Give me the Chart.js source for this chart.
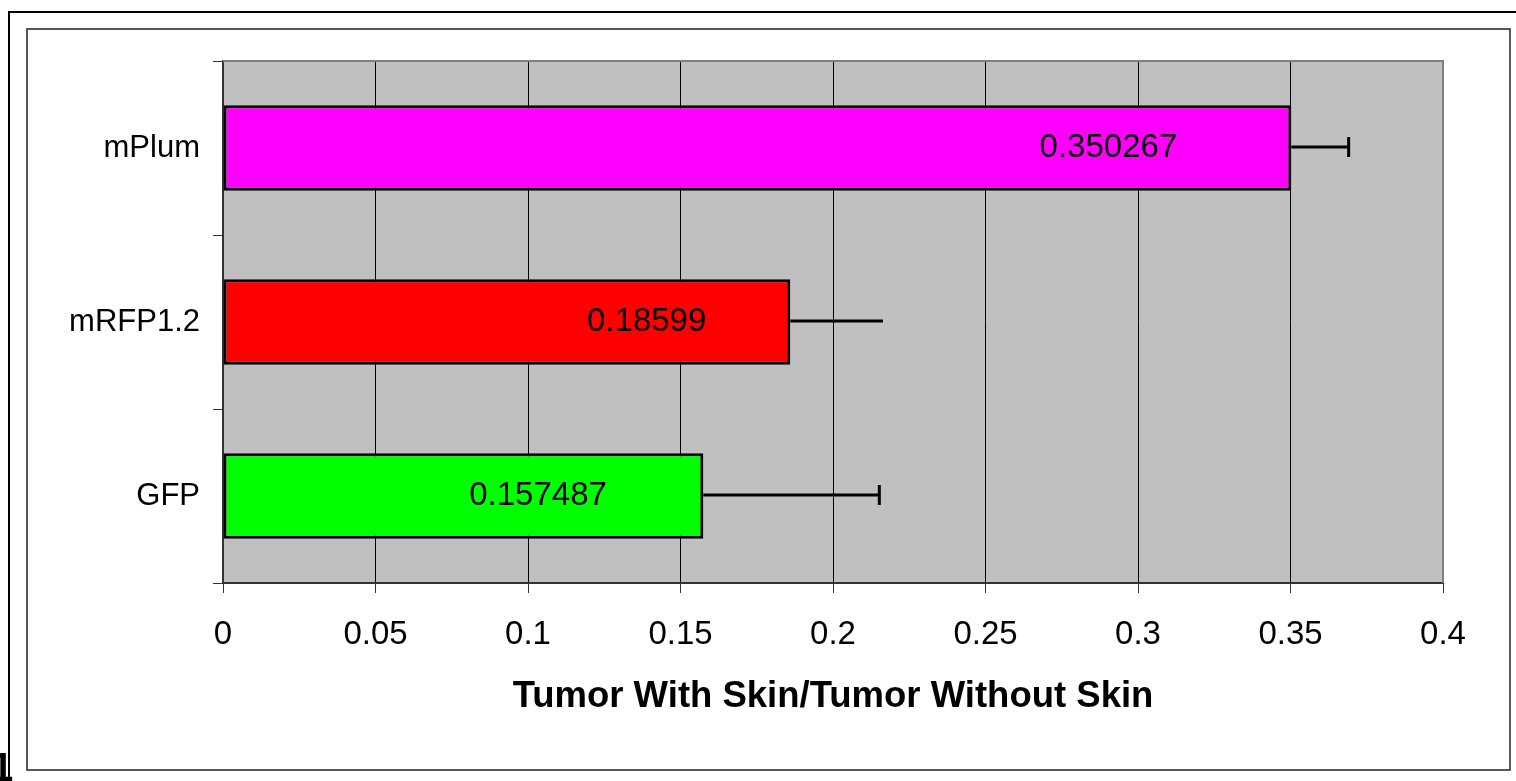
<!DOCTYPE html>
<html>
<head>
    <script src="https://cdn.jsdelivr.net/npm/chart.js@4/dist/chart.umd.min.js"></script>
</head>
<body>
    <canvas id="ratioChart" width="1516" height="781" role="img" aria-label="Tumor with skin / tumor without skin per fluorescent protein"></canvas>
</body>
</html>

<script>
    // DATA (top to bottom as shown)
    const proteins = ['mPlum', 'mRFP1.2', 'GFP'];
    const ratios = [0.350267, 0.18599, 0.157487];
    const ratioErrors = [0.0188, 0.0304, 0.0577];
    const barColours = ['#FF00FF', '#FF0000', '#00FF00'];
    const xTicks = [0, 0.05, 0.1, 0.15, 0.2, 0.25, 0.3, 0.35, 0.4];
    const axisTitle = 'Tumor With Skin/Tumor Without Skin';

    // where the value labels sit inside each bar (value units, Excel placed them by hand)
    const labelCentres = [0.2903, 0.1389, 0.1033];
    // the mRFP1.2 error bar has no end cap in the original
    const errorCaps = [true, false, true];

    const FONT = "'Liberation Sans', Arial, Helvetica, sans-serif";

    // grey plot background + grey border top/right
    const plotArea = {
        id: 'plotArea',
        beforeDraw(chart) {
            const { ctx, chartArea: a } = chart;
            ctx.save();
            ctx.fillStyle = '#C0C0C0';
            ctx.fillRect(a.left, a.top, a.right - a.left, a.bottom - a.top);
            ctx.restore();
        },
        beforeDatasetsDraw(chart) {
            const { ctx, chartArea: a } = chart;
            ctx.save();
            ctx.strokeStyle = '#808080';
            ctx.lineWidth = 2;
            ctx.beginPath();
            ctx.moveTo(a.left, a.top);
            ctx.lineTo(a.right, a.top);
            ctx.lineTo(a.right, a.bottom);
            ctx.stroke();
            ctx.restore();
        }
    };

    // error bars (plus side only) and value labels
    const barExtras = {
        id: 'barExtras',
        afterDatasetsDraw(chart) {
            const { ctx } = chart;
            const xScale = chart.scales.x;
            const bars = chart.getDatasetMeta(0).data;
            ctx.save();
            bars.forEach((bar, i) => {
                const xEnd = xScale.getPixelForValue(ratios[i] + ratioErrors[i]);
                ctx.strokeStyle = '#000';
                ctx.lineWidth = 3;
                ctx.beginPath();
                ctx.moveTo(bar.x, bar.y - 1);
                ctx.lineTo(xEnd, bar.y - 1);
                ctx.stroke();
                if (errorCaps[i]) {
                    ctx.beginPath();
                    ctx.moveTo(xEnd, bar.y - 11);
                    ctx.lineTo(xEnd, bar.y + 9);
                    ctx.stroke();
                }
                ctx.fillStyle = '#000';
                ctx.font = '33px ' + FONT;
                ctx.textAlign = 'center';
                ctx.textBaseline = 'middle';
                ctx.fillText(String(ratios[i]), xScale.getPixelForValue(labelCentres[i]), bar.y);
            });
            ctx.restore();
        }
    };

    // the two frames round the chart, like the pasted Excel object
    const frames = {
        id: 'frames',
        afterDraw(chart) {
            const { ctx, width, height } = chart;
            ctx.save();
            ctx.strokeStyle = '#000';
            ctx.lineWidth = 2;
            ctx.beginPath();
            ctx.moveTo(width, 12);
            ctx.lineTo(9, 12);
            ctx.lineTo(9, height);
            ctx.stroke();
            ctx.strokeStyle = '#222';
            ctx.lineWidth = 1.5;
            ctx.strokeRect(27, 29, 1483, 741);
            // cut-off page number peeking in at the bottom left
            ctx.fillStyle = '#000';
            ctx.font = 'bold 40px ' + FONT;
            ctx.textAlign = 'left';
            ctx.textBaseline = 'alphabetic';
            ctx.fillText('1', -9, 781);
            ctx.restore();
        }
    };

    const ctx = document.getElementById('ratioChart');
    const ratioChart = new Chart(ctx, {
        type: 'bar',
        data: {
            labels: proteins,
            datasets: [{
                data: ratios,
                backgroundColor: barColours,
                borderColor: '#000',
                borderWidth: 3,
                borderSkipped: false,
                barPercentage: 0.49,
                categoryPercentage: 1
            }]
        },
        options: {
            indexAxis: 'y',
            responsive: false,
            animation: false,
            layout: { padding: { left: 0, top: 61, right: 73, bottom: 0 } },
            plugins: {
                legend: { display: false },
                tooltip: { enabled: false }
            },
            scales: {
                x: {
                    min: 0,
                    max: 0.4,
                    afterFit: (scale) => { scale.height = 198; },
                    afterBuildTicks: (scale) => { scale.ticks = xTicks.map(v => ({ value: v })); },
                    grid: { color: '#000', lineWidth: 1, tickLength: 10, tickColor: '#333' },
                    border: { color: '#333', width: 2 },
                    ticks: {
                        color: '#000',
                        padding: 22,
                        maxRotation: 0,
                        autoSkip: false,
                        font: { family: FONT, size: 33 },
                        callback: (v) => String(v)
                    },
                    title: {
                        display: true,
                        text: axisTitle,
                        color: '#000',
                        font: { family: FONT, size: 36.5, weight: 'bold' },
                        padding: { top: 0, bottom: 62 }
                    }
                },
                y: {
                    afterFit: (scale) => { scale.width = 223; },
                    grid: { offset: true, drawOnChartArea: false, tickLength: 10, color: '#333', lineWidth: 1 },
                    border: { color: '#333', width: 2 },
                    ticks: {
                        color: '#000',
                        padding: 13,
                        font: { family: FONT, size: 31 }
                    }
                }
            }
        },
        plugins: [plotArea, barExtras, frames]
    });
</script>

<style>
html, body {
    margin: 0;
    padding: 0;
    background: #fff;
}
canvas {
    display: block;
}
</style>
